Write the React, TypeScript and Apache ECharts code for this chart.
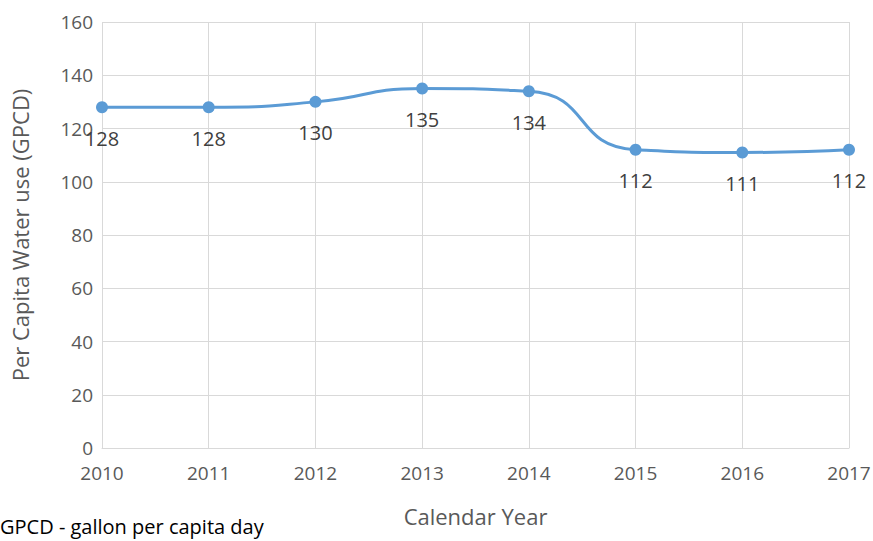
import React, { useEffect, useRef } from "react";
import * as echarts from "echarts";

const years = ["2010", "2011", "2012", "2013", "2014", "2015", "2016", "2017"];
const gpcd = [128, 128, 130, 135, 134, 112, 111, 112];
const yTicks = { min: 0, max: 160, interval: 20 };
const yAxisTitle = "Per Capita Water use (GPCD)";
const xAxisTitle = "Calendar Year";
const footnote = "GPCD - gallon per capita day";

const FONT = "'Open Sans', 'Noto Sans', sans-serif";

export default function App() {
  const ref = useRef<HTMLDivElement>(null);
  useEffect(() => {
    if (!ref.current) return;
    const chart = echarts.init(ref.current, undefined, { renderer: "svg" });
    chart.setOption({
      animation: false,
      textStyle: { fontFamily: FONT },
      grid: { left: 102, right: 24, top: 22, bottom: 93, outerBoundsMode: "none", containLabel: false },
      xAxis: {
        type: "category",
        data: years,
        boundaryGap: false,
        name: xAxisTitle,
        nameLocation: "middle",
        nameGap: 57,
        nameTextStyle: { color: "#595959", fontSize: 22, fontFamily: FONT },
        axisLine: { lineStyle: { color: "#d9d9d9", width: 1 } },
        axisTick: { show: false },
        splitLine: { show: true, lineStyle: { color: "#d9d9d9", width: 1 } },
        axisLabel: { color: "#595959", fontSize: 19, margin: 15, fontFamily: FONT },
      },
      yAxis: {
        type: "value",
        min: yTicks.min,
        max: yTicks.max,
        interval: yTicks.interval,
        name: yAxisTitle,
        nameLocation: "middle",
        nameGap: 71,
        nameTextStyle: { color: "#595959", fontSize: 22, fontFamily: FONT },
        axisLine: { show: false },
        axisTick: { show: false },
        splitLine: { lineStyle: { color: "#d9d9d9", width: 1 } },
        axisLabel: { color: "#595959", fontSize: 19, margin: 9, fontFamily: FONT },
      },
      series: [
        {
          type: "line",
          data: gpcd,
          smooth: 0.55,
          symbol: "circle",
          symbolSize: 12,
          lineStyle: { color: "#5B9BD5", width: 3 },
          itemStyle: { color: "#5B9BD5" },
          label: {
            show: true,
            position: "bottom",
            distance: 15,
            color: "#404040",
            fontSize: 20,
            fontFamily: FONT,
          },
        },
      ],
      graphic: [
        {
          type: "text",
          left: 0,
          top: 516,
          style: { text: footnote, fill: "#000000", fontSize: 20, fontFamily: FONT },
        },
      ],
    });
    return () => chart.dispose();
  }, []);
  return <div ref={ref} style={{ width: 873, height: 541, position: "absolute", left: 0, top: 0 }} />;
}
